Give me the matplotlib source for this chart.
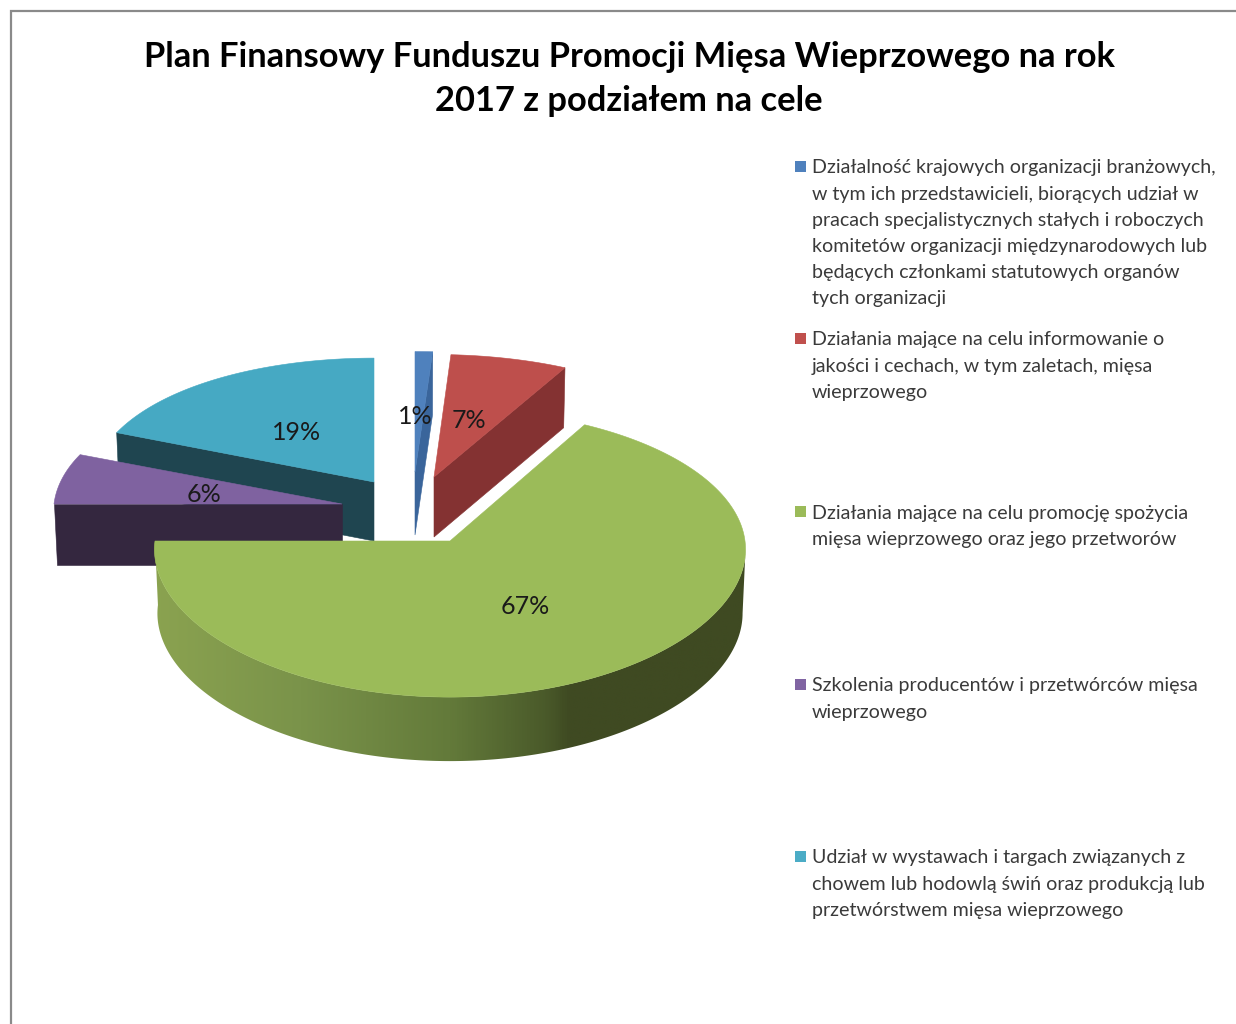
import numpy as np
import matplotlib
matplotlib.use("Agg")
import matplotlib.pyplot as plt
from matplotlib.patches import Polygon
from matplotlib.colors import LinearSegmentedColormap, Normalize

# ---- data ----
title_lines = ["Plan Finansowy Funduszu Promocji Mięsa Wieprzowego na rok",
               "2017 z podziałem na cele"]
shares = [1, 7, 67, 6, 19]
value_labels = ["1%", "7%", "67%", "6%", "19%"]
legend_lines = [
    ["Działalność krajowych organizacji branżowych,",
     "w tym ich przedstawicieli, biorących udział w",
     "pracach specjalistycznych stałych i roboczych",
     "komitetów organizacji międzynarodowych lub",
     "będących członkami statutowych organów",
     "tych organizacji"],
    ["Działania mające na celu informowanie o",
     "jakości i cechach, w tym zaletach, mięsa",
     "wieprzowego"],
    ["Działania mające na celu promocję spożycia",
     "mięsa wieprzowego oraz jego przetworów"],
    ["Szkolenia producentów i przetwórców mięsa",
     "wieprzowego"],
    ["Udział w wystawach i targach związanych z",
     "chowem lub hodowlą świń oraz produkcją lub",
     "przetwórstwem mięsa wieprzowego"],
]

# ---- style / layout ----
top_colors = ["#4F81BD", "#BE4F4C", "#9BBB59", "#7F62A0", "#46A9C3"]
side_colors = ["#3A659B", "#843232", "#3F4A22", "#34273F", "#1F4550"]
legend_colors = ["#4F81BD", "#C0504D", "#9BBB59", "#8064A2", "#4BACC6"]
apex = [(415, 472), (434, 477), (450, 541), (342, 504), (374, 482)]
rx = [300, 287, 295, 288, 283]
ry = 140
q_back = [0.14, 0.125, 0.06, 0.115, 0.115]
q_front = 0.115
q_x = 0.06
depth = [63, 60, 64, 61, 59]
shrink = 0.99
draw_order = [4, 3, 0, 1, 2]
label_pos = [(415, 416), (469, 420), (525, 606), (204, 494), (297, 432)]
legend_first_y = [168, 340, 513, 686, 858]
line_step = 26.1
FONT = "Lato"

fig = plt.figure(figsize=(12.36, 10.24), dpi=100, facecolor="white")
ax = fig.add_axes([0, 0, 1, 1])

# frame
ax.plot([10.5, 10.5, 1236], [1024, 10.5, 10.5], color="#8A8A8A", lw=1.6,
        solid_joinstyle="miter", zorder=1)

# angles from the values (clockwise from 12 o'clock)
edges = np.concatenate([[0], np.cumsum(shares)]) / np.sum(shares) * 2 * np.pi


def project(i, theta):
    u, v = np.sin(theta), -np.cos(theta)
    q = np.where(v < 0, q_back[i], q_front)
    x = apex[i][0] + rx[i] * u * (1 + q_x * v)
    y = apex[i][1] + ry * v * (1 + q * v)
    return x, y


green_cmap = LinearSegmentedColormap.from_list(
    "wall", [(0.0, "#8BA350"), (0.25, "#7A934A"), (0.5, "#637A3A"),
             (0.66, "#4A5A2A"), (0.70, "#3F4A22"), (1.0, "#3F4A22")])

z = 2
for i in draw_order:
    t0, t1 = edges[i], edges[i + 1]
    th = np.linspace(t0, t1, 240)
    x, y = project(i, th)
    ax0, ay0 = apex[i]
    d = depth[i]
    spans_front = t0 < np.pi < t1
    if spans_front:
        ws = np.linspace(t0, t1, 800)
        wx, wy = project(i, ws)
        start = int(np.argmax(wx))
        wx, wy = wx[start:], wy[start:]
        bx = ax0 + (wx - ax0) * shrink
        by = wy + d
        wall = Polygon(np.column_stack([np.r_[wx, bx[::-1]], np.r_[wy, by[::-1]]]),
                       closed=True, transform=ax.transData, fc="none", ec="none")
        ax.add_patch(wall)
        ramp = np.linspace(0, 1, 590)[None, :]
        im = ax.imshow(ramp, cmap=green_cmap, norm=Normalize(0, 1),
                       extent=(150, 750, 780, 500), aspect="auto", zorder=z,
                       interpolation="bilinear")
        im.set_clip_path(wall)
    else:
        # radial side face facing the viewer
        end = t1 if np.sin((t0 + t1) / 2) > 0 else t0
        ex, ey = project(i, np.array([end]))
        ex, ey = float(ex[0]), float(ey[0])
        ax.add_patch(Polygon([(ex, ey), (ax0, ay0), (ax0, ay0 + d),
                              (ax0 + (ex - ax0) * shrink, ey + d)],
                             closed=True, fc=side_colors[i], ec=side_colors[i],
                             lw=0.4, zorder=z))
    pts = np.column_stack([np.r_[ax0, x], np.r_[ay0, y]])
    ax.add_patch(Polygon(pts, closed=True, fc=top_colors[i], ec=top_colors[i],
                         lw=0.4, zorder=z + 0.5))
    z += 1

for lab, (lx, ly) in zip(value_labels, label_pos):
    ax.text(lx, ly, lab, ha="center", va="center", fontsize=18, family=FONT,
            color="#1A1A1A", zorder=20)

for line, ty in zip(title_lines, [57, 101]):
    ax.text(629, ty, line, ha="center", va="center", fontsize=24.85, family=FONT,
            fontweight="bold", color="black", zorder=20)

for lines, col, y0 in zip(legend_lines, legend_colors, legend_first_y):
    ax.add_patch(Polygon([(795, y0 - 7), (806, y0 - 7), (806, y0 + 4), (795, y0 + 4)],
                         closed=True, fc=col, ec="none", zorder=20))
    for k, line in enumerate(lines):
        ax.text(812, y0 + k * line_step, line, ha="left", va="center",
                fontsize=14.15, family=FONT, color="#3A3A3A", zorder=20)

ax.set_xlim(0, 1236)
ax.set_ylim(1024, 0)
ax.axis("off")
fig.savefig("out.png", dpi=100, facecolor="white")
